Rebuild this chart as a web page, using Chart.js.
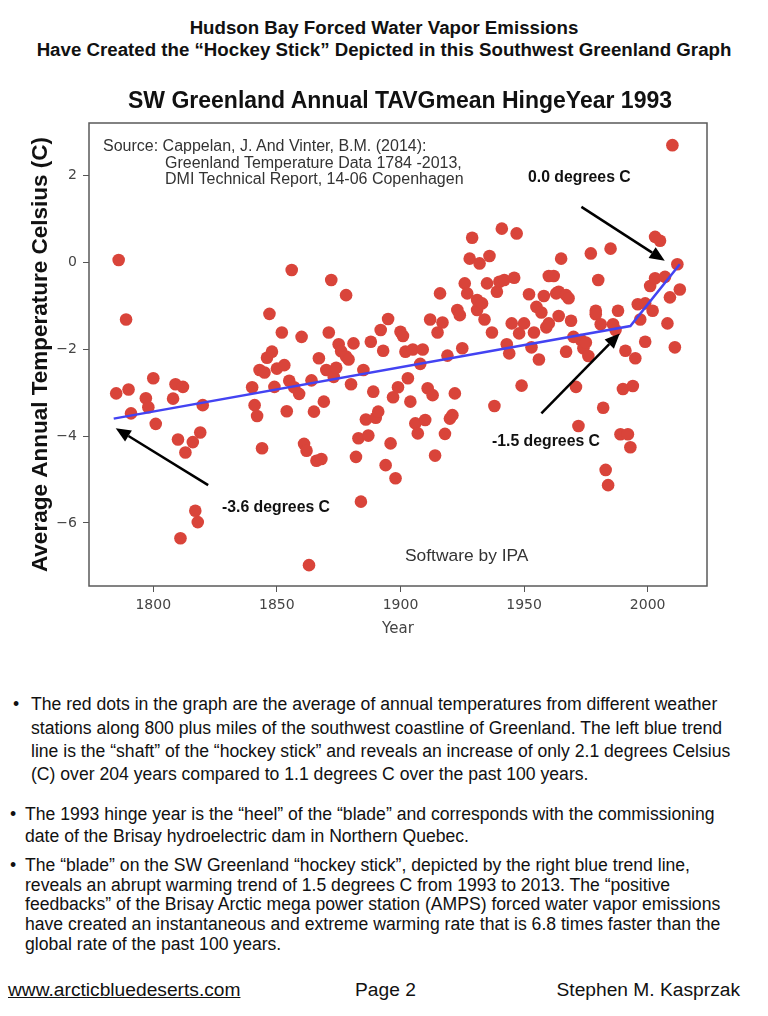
<!DOCTYPE html>
<html>
<head>
<meta charset="utf-8">
<script src="https://cdn.jsdelivr.net/npm/chart.js@4.4.0/dist/chart.umd.min.js"></script>
<style>
  body { margin: 0; width: 768px; height: 1016px; background: #fff; position: relative; overflow: hidden;
         font-family: "Liberation Sans", Arial, sans-serif; color: #111; }
  .t { position: absolute; white-space: nowrap; line-height: 1; }
  .head { left: 0; width: 768px; text-align: center; font-weight: bold; font-size: 18.7px; }
  .src { font-size: 16px; color: #333; }
  .ann { font-size: 15.8px; font-weight: bold; color: #111; }
  .body { font-size: 17.6px; }
  .foot { font-size: 19.2px; }
  #wrap { position: absolute; left: 0; top: 80px; width: 768px; height: 580px; }
</style>
</head>
<body>
<div class="t head" style="top:18.6px">Hudson Bay Forced Water Vapor Emissions</div>
<div class="t head" style="top:40.6px">Have Created the “Hockey Stick” Depicted in this Southwest Greenland Graph</div>

<div id="wrap"><canvas id="chart"></canvas></div>

<div class="t" style="top:88.5px;left:0;width:800px;text-align:center;font-weight:bold;font-size:23px;">SW Greenland Annual TAVGmean HingeYear 1993</div>
<div class="t src" style="top:138px;left:103px">Source: Cappelan, J. And Vinter, B.M. (2014):</div>
<div class="t src" style="top:155px;left:165px">Greenland Temperature Data 1784 -2013,</div>
<div class="t src" style="top:171px;left:165px">DMI Technical Report, 14-06 Copenhagen</div>
<div class="t ann" style="top:169px;left:528px">0.0 degrees C</div>
<div class="t ann" style="top:433px;left:492px">-1.5 degrees C</div>
<div class="t ann" style="top:499px;left:222px">-3.6 degrees C</div>
<div class="t" style="top:547.3px;left:405px;font-size:17.4px;color:#333">Software by IPA</div>

<div class="t body" style="top:696px;left:13px">•</div>
<div class="t body" style="top:696px;left:31px">The red dots in the graph are the average of annual temperatures from different weather</div>
<div class="t body" style="top:720px;left:31px">stations along 800 plus miles of the southwest coastline of Greenland. The left blue trend</div>
<div class="t body" style="top:743px;left:31px">line is the “shaft” of the “hockey stick” and reveals an increase of only 2.1 degrees Celsius</div>
<div class="t body" style="top:766px;left:31px">(C) over 204 years compared to 1.1 degrees C over the past 100 years.</div>

<div class="t body" style="top:806px;left:10px">•</div>
<div class="t body" style="top:806px;left:25px">The 1993 hinge year is the “heel” of the “blade” and corresponds with the commissioning</div>
<div class="t body" style="top:828px;left:25px">date of the Brisay hydroelectric dam in Northern Quebec.</div>

<div class="t body" style="top:857px;left:10px">•</div>
<div class="t body" style="top:857px;left:25px">The “blade” on the SW Greenland “hockey stick”, depicted by the right blue trend line,</div>
<div class="t body" style="top:877px;left:25px">reveals an abrupt warming trend of 1.5 degrees C from 1993 to 2013. The “positive</div>
<div class="t body" style="top:896px;left:25px">feedbacks” of the Brisay Arctic mega power station (AMPS) forced water vapor emissions</div>
<div class="t body" style="top:916px;left:25px">have created an instantaneous and extreme warming rate that is 6.8 times faster than the</div>
<div class="t body" style="top:936px;left:25px">global rate of the past 100 years.</div>

<div class="t foot" style="top:980.4px;left:8px;text-decoration:underline">www.arcticbluedeserts.com</div>
<div class="t foot" style="top:980.4px;left:355px">Page 2</div>
<div class="t foot" style="top:980.4px;right:28px">Stephen M. Kasprzak</div>

<script>
// annual mean temperatures
const years = [
  1785, 1786, 1789, 1790, 1791, 1797, 1798, 1800, 1801, 1808, 1809, 1810, 1811, 1812, 1813, 1816, 1817, 1818, 1819, 1820,
  1840, 1841, 1842, 1843, 1844, 1845, 1846, 1847, 1848, 1849, 1850, 1852, 1853, 1854, 1855, 1856, 1857, 1859, 1860, 1861,
  1862, 1863, 1864, 1865, 1866, 1867, 1868, 1869, 1870, 1871, 1872, 1873, 1874, 1875, 1876, 1878, 1878, 1879, 1880, 1881,
  1882, 1883, 1884, 1885, 1886, 1887, 1888, 1889, 1890, 1891, 1892, 1893, 1894, 1895, 1896, 1897, 1898, 1899, 1900, 1901,
  1902, 1903, 1904, 1905, 1906, 1907, 1908, 1909, 1910, 1911, 1912, 1913, 1914, 1915, 1916, 1917, 1918, 1919, 1920, 1921,
  1922, 1923, 1924, 1925, 1926, 1927, 1928, 1929, 1931, 1931, 1932, 1933, 1934, 1935, 1936, 1937, 1938, 1939, 1940, 1941,
  1942, 1943, 1944, 1945, 1946, 1947, 1948, 1949, 1950, 1952, 1953, 1954, 1955, 1956, 1957, 1958, 1959, 1960, 1960, 1962,
  1963, 1964, 1964, 1965, 1967, 1967, 1968, 1969, 1970, 1971, 1972, 1973, 1974, 1975, 1976, 1977, 1979, 1979, 1980, 1981,
  1982, 1983, 1984, 1985, 1986, 1987, 1988, 1989, 1990, 1991, 1992, 1993, 1994, 1995, 1996, 1997, 1999, 1999, 2001, 2002,
  2003, 2003, 2005, 2007, 2008, 2009, 2010, 2011, 2012, 2013
];
const temps = [
  -3.02, 0.05, -1.32, -2.93, -3.48, -3.13, -3.34, -2.67, -3.72, -3.14, -2.81, -4.08, -6.35, -2.87, -4.38, -4.14, -5.72, -5.98, -3.92, -3.29,
  -2.88, -3.29, -3.54, -2.48, -4.28, -2.54, -2.20, -1.19, -2.06, -2.87, -2.45, -1.62, -2.37, -3.43, -2.73, -0.18, -2.88, -3.03, -1.72, -4.18,
  -4.34, -6.97, -2.72, -3.44, -4.57, -2.21, -4.53, -3.21, -2.48, -1.62, -0.41, -2.64, -2.43, -1.89, -2.05, -2.17, -0.76, -2.24, -2.81, -1.87,
  -4.48, -4.05, -5.51, -2.48, -3.62, -3.99, -1.83, -2.98, -3.58, -3.44, -1.56, -2.04, -4.67, -1.31, -4.17, -3.11, -4.97, -2.88, -1.60, -1.70,
  -2.06, -2.67, -3.21, -2.01, -3.71, -3.94, -2.34, -2.01, -3.63, -2.90, -1.32, -3.06, -4.45, -1.62, -0.72, -1.39, -3.95, -2.15, -3.60, -3.52,
  -3.02, -1.10, -1.22, -1.98, -0.49, -0.72, 0.08, 0.56, -1.10, -0.87, -0.03, -0.95, -1.32, -0.49, 0.14, -1.62, -3.31, -0.68, -0.45, 0.77,
  -0.41, -1.89, -2.10, -1.41, -0.36, 0.66, -1.64, -2.84, -1.41, -0.74, -1.96, -1.62, -1.03, -2.24, -1.16, -0.78, -1.50, -0.32, -1.41, -0.32,
  -0.72, -0.68, -1.24, 0.08, -0.76, -2.06, -0.83, -1.35, -1.72, -2.87, -3.77, -1.79, -1.98, -1.85, -2.16, 0.20, -1.12, -1.20, -0.41, -1.43,
  -3.35, -4.78, -5.13, 0.31, -1.43, -1.56, -1.12, -3.96, -2.92, -2.04, -3.96, -4.26, -2.85, -2.21, -0.97, -1.32, -0.95, -1.83, -0.55, -1.12,
  0.58, -0.37, 0.49, -0.34, -1.41, -0.81, 2.69, -1.96, -0.05, -0.63
];

// hinged trend ("hockey stick")
const trendYears = [1784, 1993, 2013];
const trendTemps = [-3.6, -1.47, -0.05];

const xTicks = [1800, 1850, 1900, 1950, 2000];
const yTicks = [2, 0, -2, -4, -6];

// arrows: [tailYear, tailTemp, headYear, headTemp]
const arrows = [
  [1973.2, 1.27, 2006.9, 0.03],
  [1957.0, -3.48, 1988.7, -1.64],
  [1822.2, -5.13, 1784.8, -3.82]
];

const framePlugin = {
  id: 'frame',
  afterDatasetsDraw(chart) {
    const { ctx, chartArea: a, scales: { x, y } } = chart;
    ctx.save();
    ctx.strokeStyle = '#5a5a5a';
    ctx.lineWidth = 1.5;
    ctx.strokeRect(a.left, a.top, a.right - a.left, a.bottom - a.top);

    // annotation arrows
    ctx.strokeStyle = '#000';
    ctx.fillStyle = '#000';
    ctx.lineWidth = 2.5;
    arrows.forEach(([x0, y0, x1, y1]) => {
      const px0 = x.getPixelForValue(x0), py0 = y.getPixelForValue(y0);
      const px1 = x.getPixelForValue(x1), py1 = y.getPixelForValue(y1);
      const ang = Math.atan2(py1 - py0, px1 - px0);
      const hl = 15, hw = 6.5;
      const bx = px1 - hl * Math.cos(ang), by = py1 - hl * Math.sin(ang);
      ctx.beginPath();
      ctx.moveTo(px0, py0);
      ctx.lineTo(bx, by);
      ctx.stroke();
      ctx.beginPath();
      ctx.moveTo(px1, py1);
      ctx.lineTo(bx + hw * Math.sin(ang), by - hw * Math.cos(ang));
      ctx.lineTo(bx - hw * Math.sin(ang), by + hw * Math.cos(ang));
      ctx.closePath();
      ctx.fill();
    });
    ctx.restore();
  }
};

const tickFont = { family: 'DejaVu Sans', size: 14 };

new Chart(document.getElementById('chart').getContext('2d'), {
  data: {
    datasets: [
      {
        type: 'line',
        data: trendYears.map((yr, i) => ({ x: yr, y: trendTemps[i] })),
        borderColor: '#4343f2',
        borderWidth: 2.5,
        pointRadius: 0,
        tension: 0,
        order: 0
      },
      {
        type: 'scatter',
        data: years.map((yr, i) => ({ x: yr, y: temps[i] })),
        backgroundColor: '#d9443a',
        borderWidth: 0,
        pointRadius: 6.3,
        order: 1
      }
    ]
  },
  options: {
    responsive: true,
    maintainAspectRatio: false,
    animation: false,
    layout: { padding: { left: 0, right: 61, top: 43, bottom: 0 } },
    scales: {
      x: {
        type: 'linear',
        min: 1774,
        max: 2024,
        afterBuildTicks: (s) => { s.ticks = xTicks.map(v => ({ value: v })); },
        afterFit: (s) => { s.height = 74; },
        ticks: { font: tickFont, color: '#444', padding: 5, maxRotation: 0, callback: (v) => String(v) },
        grid: { drawOnChartArea: false, tickLength: 6, color: '#555' },
        border: { display: false },
        title: { display: true, text: 'Year', font: { family: 'DejaVu Sans', size: 15 }, color: '#444', padding: { top: 0, bottom: 22 } }
      },
      y: {
        min: -7.45,
        max: 3.2,
        afterBuildTicks: (s) => { s.ticks = yTicks.map(v => ({ value: v })); },
        afterFit: (s) => { s.width = 89; },
        ticks: { font: tickFont, color: '#444', padding: 6, callback: (v) => (v < 0 ? '\u2212' + Math.abs(v) : String(v)) },
        grid: { drawOnChartArea: false, tickLength: 6, color: '#555' },
        border: { display: false },
        title: { display: true, text: 'Average Annual Temperature Celsius (C)', font: { family: 'Liberation Sans', size: 22.5, weight: 'bold' }, color: '#111', padding: { top: 27, bottom: 0 } }
      }
    },
    plugins: {
      legend: { display: false },
      tooltip: { enabled: false }
    }
  },
  plugins: [framePlugin]
});
</script>
</body>
</html>
